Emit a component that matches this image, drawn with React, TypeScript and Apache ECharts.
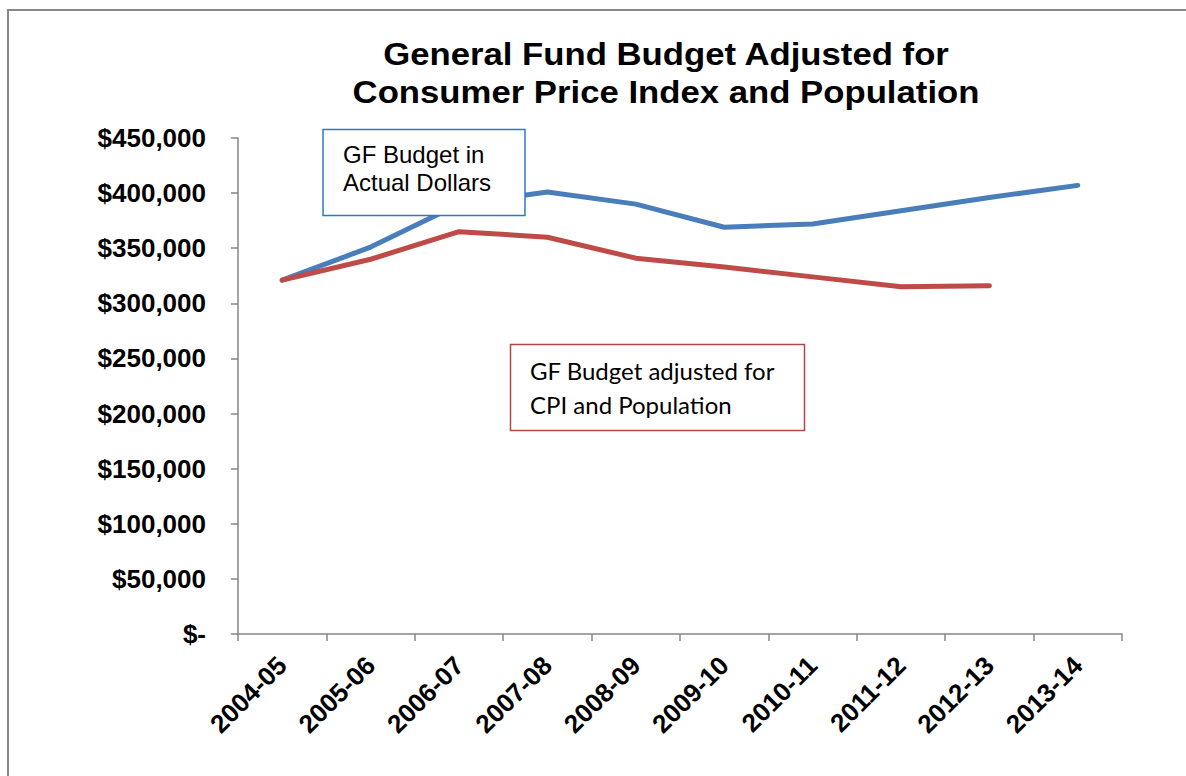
import React, { useEffect, useRef } from "react";
import * as echarts from "echarts";

// Fiscal years on the category axis
const years = [
  "2004-05", "2005-06", "2006-07", "2007-08", "2008-09",
  "2009-10", "2010-11", "2011-12", "2012-13", "2013-14",
];

// General Fund budget in actual dollars
const actualDollars = [321000, 351000, 390000, 401000, 390000, 369000, 372000, 384000, 396000, 407000];

// General Fund budget adjusted for CPI and population
const adjustedDollars = [321000, 340000, 365000, 360000, 341000, 333000, 324000, 315000, 316000, null];

const titleLines = ["General Fund Budget Adjusted for", "Consumer Price Index and Population"];
const actualLabel = ["GF Budget in", "Actual Dollars"];
const adjustedLabel = ["GF Budget adjusted for", "CPI and Population"];

const AXIS_GRAY = "#868686";
const BLUE = "#4a7ebb";
const RED = "#be4b48";
const ARIAL = "'Liberation Sans', Arial, Helvetica, sans-serif";

function money(v: number): string {
  if (v === 0) return "$-";
  return "$" + v.toLocaleString("en-US");
}

export default function App() {
  const ref = useRef<HTMLDivElement>(null);

  useEffect(() => {
    if (!ref.current) return;
    const chart = echarts.init(ref.current, undefined, { renderer: "svg" });
    chart.setOption({
      animation: false,
      backgroundColor: "#ffffff",
      grid: { left: 238, right: 64, top: 138, bottom: 142, containLabel: false },
      xAxis: {
        type: "category",
        data: years,
        boundaryGap: true,
        axisLine: { lineStyle: { color: AXIS_GRAY, width: 1.5 } },
        axisTick: { show: true, length: 7, lineStyle: { color: AXIS_GRAY, width: 1.5 } },
        axisLabel: {
          rotate: 45,
          margin: 27,
          interval: 0,
          color: "#000",
          fontFamily: ARIAL,
          fontWeight: "bold",
          fontSize: 26,
        },
        splitLine: { show: false },
      },
      yAxis: {
        type: "value",
        min: 0,
        max: 450000,
        interval: 50000,
        axisLine: { show: true, lineStyle: { color: AXIS_GRAY, width: 1.5 } },
        axisTick: { show: true, length: 7, lineStyle: { color: AXIS_GRAY, width: 1.5 } },
        axisLabel: {
          margin: 32,
          color: "#000",
          fontFamily: ARIAL,
          fontWeight: "bold",
          fontSize: 26,
          formatter: (v: number) => money(v),
        },
        splitLine: { show: false },
      },
      series: [
        {
          name: "GF Budget in Actual Dollars",
          type: "line",
          data: actualDollars,
          symbol: "none",
          lineStyle: { color: BLUE, width: 5, cap: "round", join: "round" },
          z: 2,
        },
        {
          name: "GF Budget adjusted for CPI and Population",
          type: "line",
          data: adjustedDollars,
          symbol: "none",
          connectNulls: false,
          lineStyle: { color: RED, width: 5, cap: "round", join: "round" },
          z: 3,
        },
      ],
      graphic: [
        // outer chart frame
        {
          type: "rect",
          shape: { x: 8, y: 10, width: 1200, height: 800 },
          style: { fill: "none", stroke: "#878787", lineWidth: 2 },
          silent: true,
          z: 1,
        },
        {
          type: "text",
          x: 666,
          y: 35,
          scaleX: 1.12,
          style: {
            text: titleLines.join("\n"),
            fill: "#000",
            font: `bold 31px ${ARIAL}`,
            textAlign: "center",
            textVerticalAlign: "top",
            lineHeight: 38,
          },
          z: 10,
        },
        // callout for the actual-dollar line
        {
          type: "rect",
          shape: { x: 323, y: 129.5, width: 202, height: 86 },
          style: { fill: "#ffffff", stroke: "#2f7ac3", lineWidth: 1.5 },
          z: 20,
        },
        {
          type: "text",
          x: 343,
          y: 140,
          style: {
            text: actualLabel.join("\n"),
            fill: "#000",
            font: `24px ${ARIAL}`,
            textVerticalAlign: "top",
            lineHeight: 28,
          },
          z: 21,
        },
        // callout for the adjusted line
        {
          type: "rect",
          shape: { x: 510.5, y: 344.5, width: 294, height: 86 },
          style: { fill: "#ffffff", stroke: "#b04846", lineWidth: 1.5 },
          z: 20,
        },
        {
          type: "text",
          x: 530,
          y: 353,
          style: {
            text: adjustedLabel.join("\n"),
            fill: "#000",
            font: `24px Lato, 'Open Sans', sans-serif`,
            textVerticalAlign: "top",
            lineHeight: 34,
          },
          z: 21,
        },
      ],
    });
    return () => chart.dispose();
  }, []);

  return (
    <div
      ref={ref}
      style={{ position: "fixed", left: 0, top: 0, width: 1186, height: 776, background: "#fff" }}
    />
  );
}
